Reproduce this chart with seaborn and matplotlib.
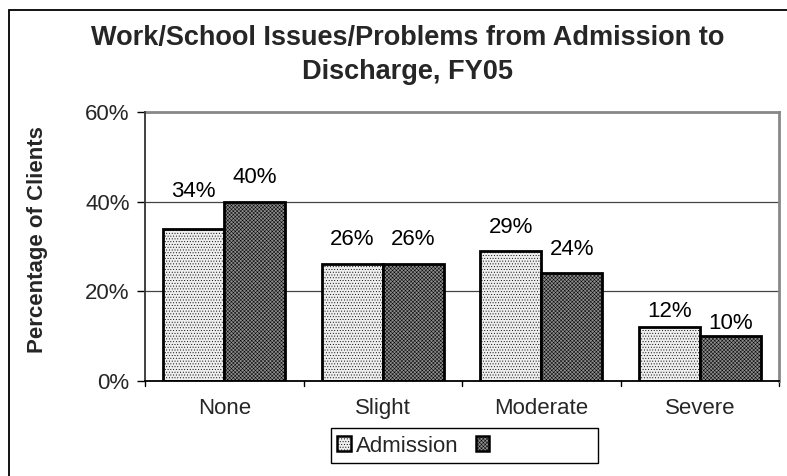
import matplotlib
matplotlib.use("Agg")
import matplotlib.pyplot as plt
import matplotlib.patches as mpatches
import seaborn as sns
import pandas as pd

categories = ["None", "Slight", "Moderate", "Severe"]
admission = [34, 26, 29, 12]
discharge = [40, 26, 24, 10]
series_names = ["Admission", "Discharge"]
legend_labels = ["Admission", ""]
y_ticks = [0, 20, 40, 60]

df = pd.DataFrame({
    "category": categories * 2,
    "value": admission + discharge,
    "series": [series_names[0]] * len(categories) + [series_names[1]] * len(categories),
})

sns.set_theme(style="white")
plt.rcParams["font.family"] = ["Liberation Sans", "DejaVu Sans"]
plt.rcParams["hatch.linewidth"] = 0.35

FS = 16
W, H = 787, 476

fig = plt.figure(figsize=(W / 100, H / 100), dpi=100)
ax = fig.add_axes([145 / W, 1 - 381 / H, (779 - 145) / W, (381 - 112) / H])

fills = {"Admission": "#eeeeee", "Discharge": "#8c8c8c"}
hatch_colors = {"Admission": "#c8c8c8", "Discharge": "#6c6c6c"}
hatches = {"Admission": "......", "Discharge": "xxxxxxxxx"}
# vertical gap (pixels) between each bar top and its value label
label_gaps = {"Admission": [27, 14, 13, 5], "Discharge": [14, 14, 13, 2]}

sns.barplot(data=df, x="category", y="value", hue="series", order=categories,
            hue_order=series_names, palette=fills, width=0.77, gap=0,
            edgecolor="black", linewidth=2.0, saturation=1, legend=False, ax=ax)

for cont, name in zip(ax.containers, series_names):
    for bar, v, gap in zip(cont, cont.datavalues, label_gaps[name]):
        bar.set_hatch(hatches[name])
        bar._hatch_color = matplotlib.colors.to_rgba(hatch_colors[name])
        bar.set_edgecolor("black")
        ax.annotate(f"{int(v)}%", (bar.get_x() + bar.get_width() / 2, v),
                    xytext=(0, gap), textcoords="offset pixels",
                    ha="center", va="bottom", fontsize=FS, color="black")

ax.set_ylim(0, 60)
ax.set_xlim(-0.5, len(categories) - 0.5)
ax.set_yticks(y_ticks)
ax.set_yticklabels([f"{t}%" for t in y_ticks], fontsize=FS)
ax.tick_params(axis="y", length=6, width=1, color="black", pad=5, direction="out", left=True)
ax.tick_params(axis="x", length=0, pad=12, labelsize=FS)
ax.set_xticks(range(len(categories)))
ax.set_xticklabels(categories)
# category separators on the x axis
for b in [-0.5, 0.5, 1.5, 2.5, 3.5]:
    ax.plot([b, b], [0, -1.2], color="black", lw=1, clip_on=False)

for t in [20, 40, 60]:
    ax.axhline(t, color="#444444", lw=0.9, zorder=0)
ax.set_axisbelow(True)

ax.set_xlabel("")
ax.set_ylabel("")
fig.text(38 / W, 1 - 240 / H, "Percentage of Clients", rotation=90, ha="center", va="center",
         fontsize=FS, fontweight="bold")

for side in ["top", "right"]:
    ax.spines[side].set_color("#888888")
    ax.spines[side].set_linewidth(2)
ax.spines["left"].set_color("#333333")
ax.spines["left"].set_linewidth(1.3)
ax.spines["bottom"].set_color("black")
ax.spines["bottom"].set_linewidth(1.3)
ax.spines["left"].set_zorder(5)
ax.spines["bottom"].set_zorder(5)

fig.text(408 / W, 1 - 55 / H, "Work/School Issues/Problems from Admission to\nDischarge, FY05",
         ha="center", va="center", fontsize=19.5, fontweight="bold", linespacing=1.4)

handles = []
for name in series_names:
    p = mpatches.Patch(facecolor=fills[name], edgecolor="black", hatch=hatches[name], lw=1.8)
    handles.append(p)
leg = fig.legend(handles, legend_labels, loc="center left", bbox_to_anchor=(337 / W, 1 - 446 / H),
                 ncol=2, frameon=False, fontsize=FS, handlelength=0.62, handleheight=0.62,
                 handletextpad=0.25, columnspacing=0.75, borderpad=0, borderaxespad=0)

# legend box
fig.add_artist(mpatches.Rectangle((331 / W, 1 - 463 / H), (598 - 331) / W, 35 / H,
                                  transform=fig.transFigure, fill=False, edgecolor="black", lw=1))

# outer chart frame
fig.add_artist(mpatches.Rectangle((9 / W, -0.1), 1.2, 1 - 10 / H + 0.1, transform=fig.transFigure,
                                  fill=False, edgecolor="black", lw=1.3))

fig.savefig("out.png", dpi=100)
